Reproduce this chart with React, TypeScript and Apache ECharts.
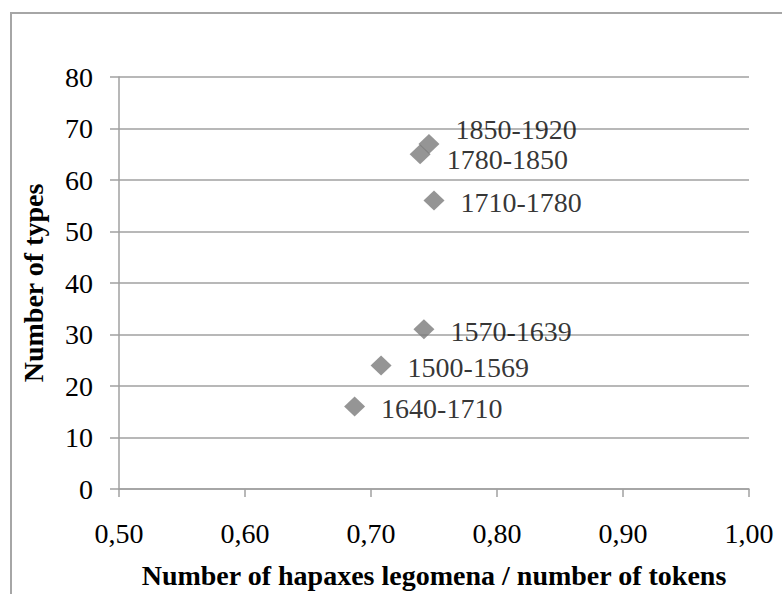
import React, { useEffect, useRef } from "react";
import * as echarts from "echarts";

const periods = ["1500-1569", "1570-1639", "1640-1710", "1710-1780", "1780-1850", "1850-1920"];
const hapaxRatio = [0.708, 0.742, 0.687, 0.75, 0.739, 0.746];
const typeCounts = [24, 31, 16, 56, 65, 67];
const xTicks = [0.5, 0.6, 0.7, 0.8, 0.9, 1.0];
const yTicks = [0, 10, 20, 30, 40, 50, 60, 70, 80];

const FONT = "'Liberation Serif', 'DejaVu Serif', serif";

export default function App() {
  const ref = useRef<HTMLDivElement>(null);
  useEffect(() => {
    if (!ref.current) return;
    const chart = echarts.init(ref.current, undefined, { renderer: "svg" });
    const labelShift: Record<string, number> = { "1850-1920": -14, "1780-1850": 5 };
    const data = periods.map((p, i) => ({
      value: [hapaxRatio[i], typeCounts[i]],
      name: p,
      label: { offset: [0, labelShift[p] ?? 2] },
    }));
    chart.setOption({
      animation: false,
      backgroundColor: "#ffffff",
      textStyle: { fontFamily: FONT },
      graphic: [
        {
          type: "rect",
          shape: { x: 11, y: 13, width: 900, height: 800 },
          style: { fill: "none", stroke: "#a6a6a6", lineWidth: 2 },
          silent: true,
        },
      ],
      grid: { left: 119, top: 77, right: 33, bottom: 99, containLabel: false },
      xAxis: {
        type: "value",
        min: xTicks[0],
        max: xTicks[xTicks.length - 1],
        interval: 0.1,
        name: "Number of hapaxes legomena / number of tokens",
        nameLocation: "middle",
        nameGap: 72,
        nameTextStyle: { fontFamily: FONT, fontSize: 28, fontWeight: "bold", color: "#000" },
        axisLine: { show: true, lineStyle: { color: "#a0a0a0", width: 1.5 } },
        axisTick: { show: true, length: 8, inside: false, lineStyle: { color: "#a0a0a0", width: 1.5 } },
        axisLabel: {
          margin: 30,
          fontFamily: FONT,
          fontSize: 28,
          color: "#000",
          formatter: (v: number) => v.toFixed(2).replace(".", ","),
        },
        splitLine: { show: false },
      },
      yAxis: {
        type: "value",
        min: yTicks[0],
        max: yTicks[yTicks.length - 1],
        interval: 10,
        name: "Number of types",
        nameLocation: "middle",
        nameGap: 72,
        nameTextStyle: { fontFamily: FONT, fontSize: 28, fontWeight: "bold", color: "#000" },
        axisLine: { show: true, lineStyle: { color: "#a0a0a0", width: 1.5 } },
        axisTick: { show: true, length: 9, inside: false, lineStyle: { color: "#a0a0a0", width: 1.5 } },
        axisLabel: { margin: 26, fontFamily: FONT, fontSize: 28, color: "#000" },
        splitLine: { show: true, lineStyle: { color: "#a0a0a0", width: 1.5 } },
      },
      series: [
        {
          type: "scatter",
          symbol: "diamond",
          symbolSize: [21, 20],
          itemStyle: { color: "#7a7a7a" },
          data,
          label: {
            show: true,
            position: "right",
            distance: 16,
            formatter: (p: any) => p.name,
            fontFamily: FONT,
            fontSize: 28,
            lineHeight: 19,
            color: "#000",
          },
        },
      ],
    });
    return () => chart.dispose();
  }, []);
  return (
    <div
      ref={ref}
      style={{ position: "fixed", left: 0, top: 0, width: 782, height: 594 }}
    />
  );
}
